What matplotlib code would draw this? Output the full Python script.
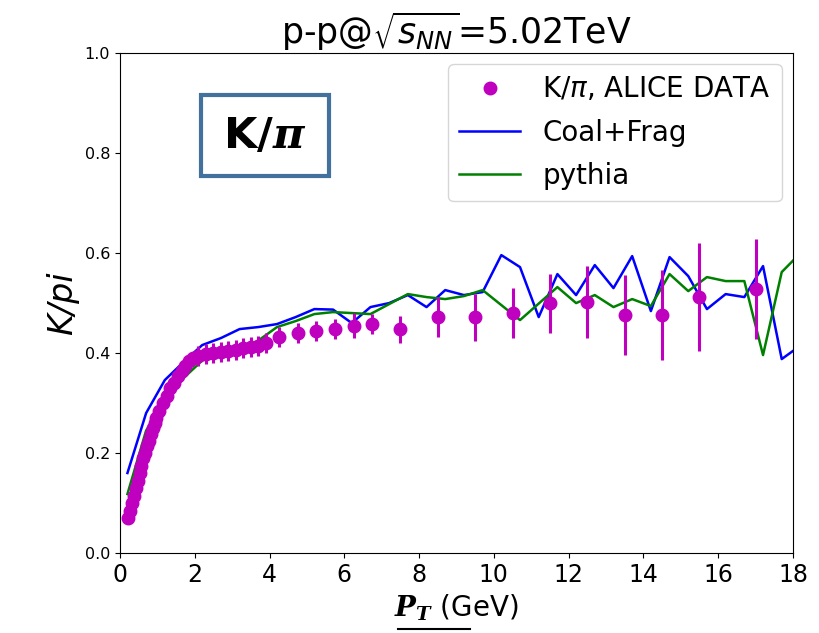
import matplotlib.pyplot as plt
import numpy as np
from matplotlib.lines import Line2D
from matplotlib.patches import Rectangle

# ALICE K/pi data (pT in GeV)
data_pt = [0.225, 0.275, 0.325, 0.375, 0.425, 0.475, 0.525, 0.575, 0.625, 0.675,
           0.725, 0.775, 0.825, 0.875, 0.925, 0.975,
           1.05, 1.15, 1.25, 1.35, 1.45, 1.55, 1.65, 1.75, 1.85, 1.95,
           2.1, 2.3, 2.5, 2.7, 2.9, 3.1, 3.3, 3.5, 3.7, 3.9,
           4.25, 4.75, 5.25, 5.75, 6.25, 6.75, 7.5, 8.5, 9.5, 10.5,
           11.5, 12.5, 13.5, 14.5, 15.5, 17.0]
data_ratio = [0.07, 0.085, 0.10, 0.115, 0.13, 0.145, 0.16, 0.175, 0.19, 0.20,
              0.215, 0.225, 0.238, 0.25, 0.26, 0.27,
              0.285, 0.30, 0.315, 0.33, 0.34, 0.355, 0.365, 0.375, 0.385, 0.39,
              0.395, 0.398, 0.40, 0.402, 0.405, 0.407, 0.41, 0.412, 0.415, 0.42,
              0.433, 0.44, 0.444, 0.448, 0.455, 0.458, 0.448, 0.472, 0.472, 0.48,
              0.50, 0.502, 0.476, 0.476, 0.512, 0.528]
data_err = [0.005] * 16 + [0.008] * 10 + [0.02] * 10 + \
           [0.02, 0.02, 0.02, 0.02, 0.025, 0.02, 0.027, 0.04, 0.047, 0.05,
            0.059, 0.072, 0.08, 0.09, 0.108, 0.10]

# model curves
model_pt = [0.2, 0.7, 1.2, 1.7, 2.2, 2.7, 3.2, 3.7, 4.2, 4.7, 5.2, 5.7, 6.2, 6.7,
            7.2, 7.7, 8.2, 8.7, 9.2, 9.7, 10.2, 10.7, 11.2, 11.7, 12.2, 12.7,
            13.2, 13.7, 14.2, 14.7, 15.2, 15.7, 16.2, 16.7, 17.2, 17.7, 18.2]
coal_frag = [0.16, 0.28, 0.346, 0.382, 0.416, 0.43, 0.448, 0.452, 0.458, 0.472,
             0.488, 0.487, 0.46, 0.492, 0.50, 0.516, 0.492, 0.526, 0.516, 0.522,
             0.596, 0.572, 0.472, 0.558, 0.516, 0.576, 0.53, 0.594, 0.484, 0.592,
             0.554, 0.488, 0.518, 0.512, 0.574, 0.388, 0.415]
pythia = [0.118, 0.245, 0.302, 0.35, 0.385, 0.395, 0.406, 0.425, 0.452, 0.464,
          0.478, 0.482, 0.48, 0.478, 0.498, 0.518, 0.512, 0.508, 0.514, 0.526,
          0.496, 0.466, 0.499, 0.532, 0.50, 0.516, 0.492, 0.508, 0.494, 0.558,
          0.524, 0.552, 0.544, 0.544, 0.396, 0.562, 0.60]

fig = plt.figure(figsize=(8.2, 6.33), dpi=100)
ax = fig.add_axes([0.1463, 0.1264, 0.8207, 0.7896])

ax.errorbar(data_pt, data_ratio, yerr=data_err, fmt="o", color="m",
            ms=9, elinewidth=2.2, capsize=0, zorder=3)
ax.plot(model_pt, coal_frag, color="b", lw=1.8)
ax.plot(model_pt, pythia, color="g", lw=1.8)

ax.set_xlim(0, 18)
ax.set_ylim(0, 1.0)
ax.set_xticks(np.arange(0, 19, 2))
ax.set_yticks(np.arange(0, 1.01, 0.2))
ax.tick_params(axis="x", labelsize=17)
ax.tick_params(axis="y", labelsize=11.5)

ax.set_title(r"p-p@$\sqrt{s_{NN}}$=5.02TeV", fontsize=25, pad=6)
ax.set_ylabel("K/pi", fontsize=24, style="italic")
ax.set_xlabel(r"$\mathbfit{P_T}$ (GeV)", fontsize=20, labelpad=4,
              math_fontfamily="dejavuserif")

# legend without the errorbar line in the handle
handles = [Line2D([], [], marker="o", color="m", ls="none", ms=9),
           Line2D([], [], color="b", lw=1.8),
           Line2D([], [], color="g", lw=1.8)]
labels = [r"K/$\pi$, ALICE DATA", "Coal+Frag", "pythia"]
ax.legend(handles, labels, loc="upper right", fontsize=20, borderaxespad=0.4,
          handlelength=2.2, labelspacing=0.55)

# K/pi box annotation
ax.add_patch(Rectangle((0.1204, 0.754), 0.19, 0.162, transform=ax.transAxes,
                       fc="white", ec="#41719c", lw=3, zorder=4))
ax.text(0.2155, 0.835, r"K/$\mathbfit{\pi}$", transform=ax.transAxes,
        fontsize=31, fontweight="bold", ha="center", va="center", zorder=5,
        math_fontfamily="dejavuserif")

# underline under the x label symbol
fig.add_artist(Line2D([398 / 820, 470 / 820], [1 - 629 / 633, 1 - 629 / 633],
                      color="k", lw=1.5))

fig.savefig("out.png", dpi=100)
